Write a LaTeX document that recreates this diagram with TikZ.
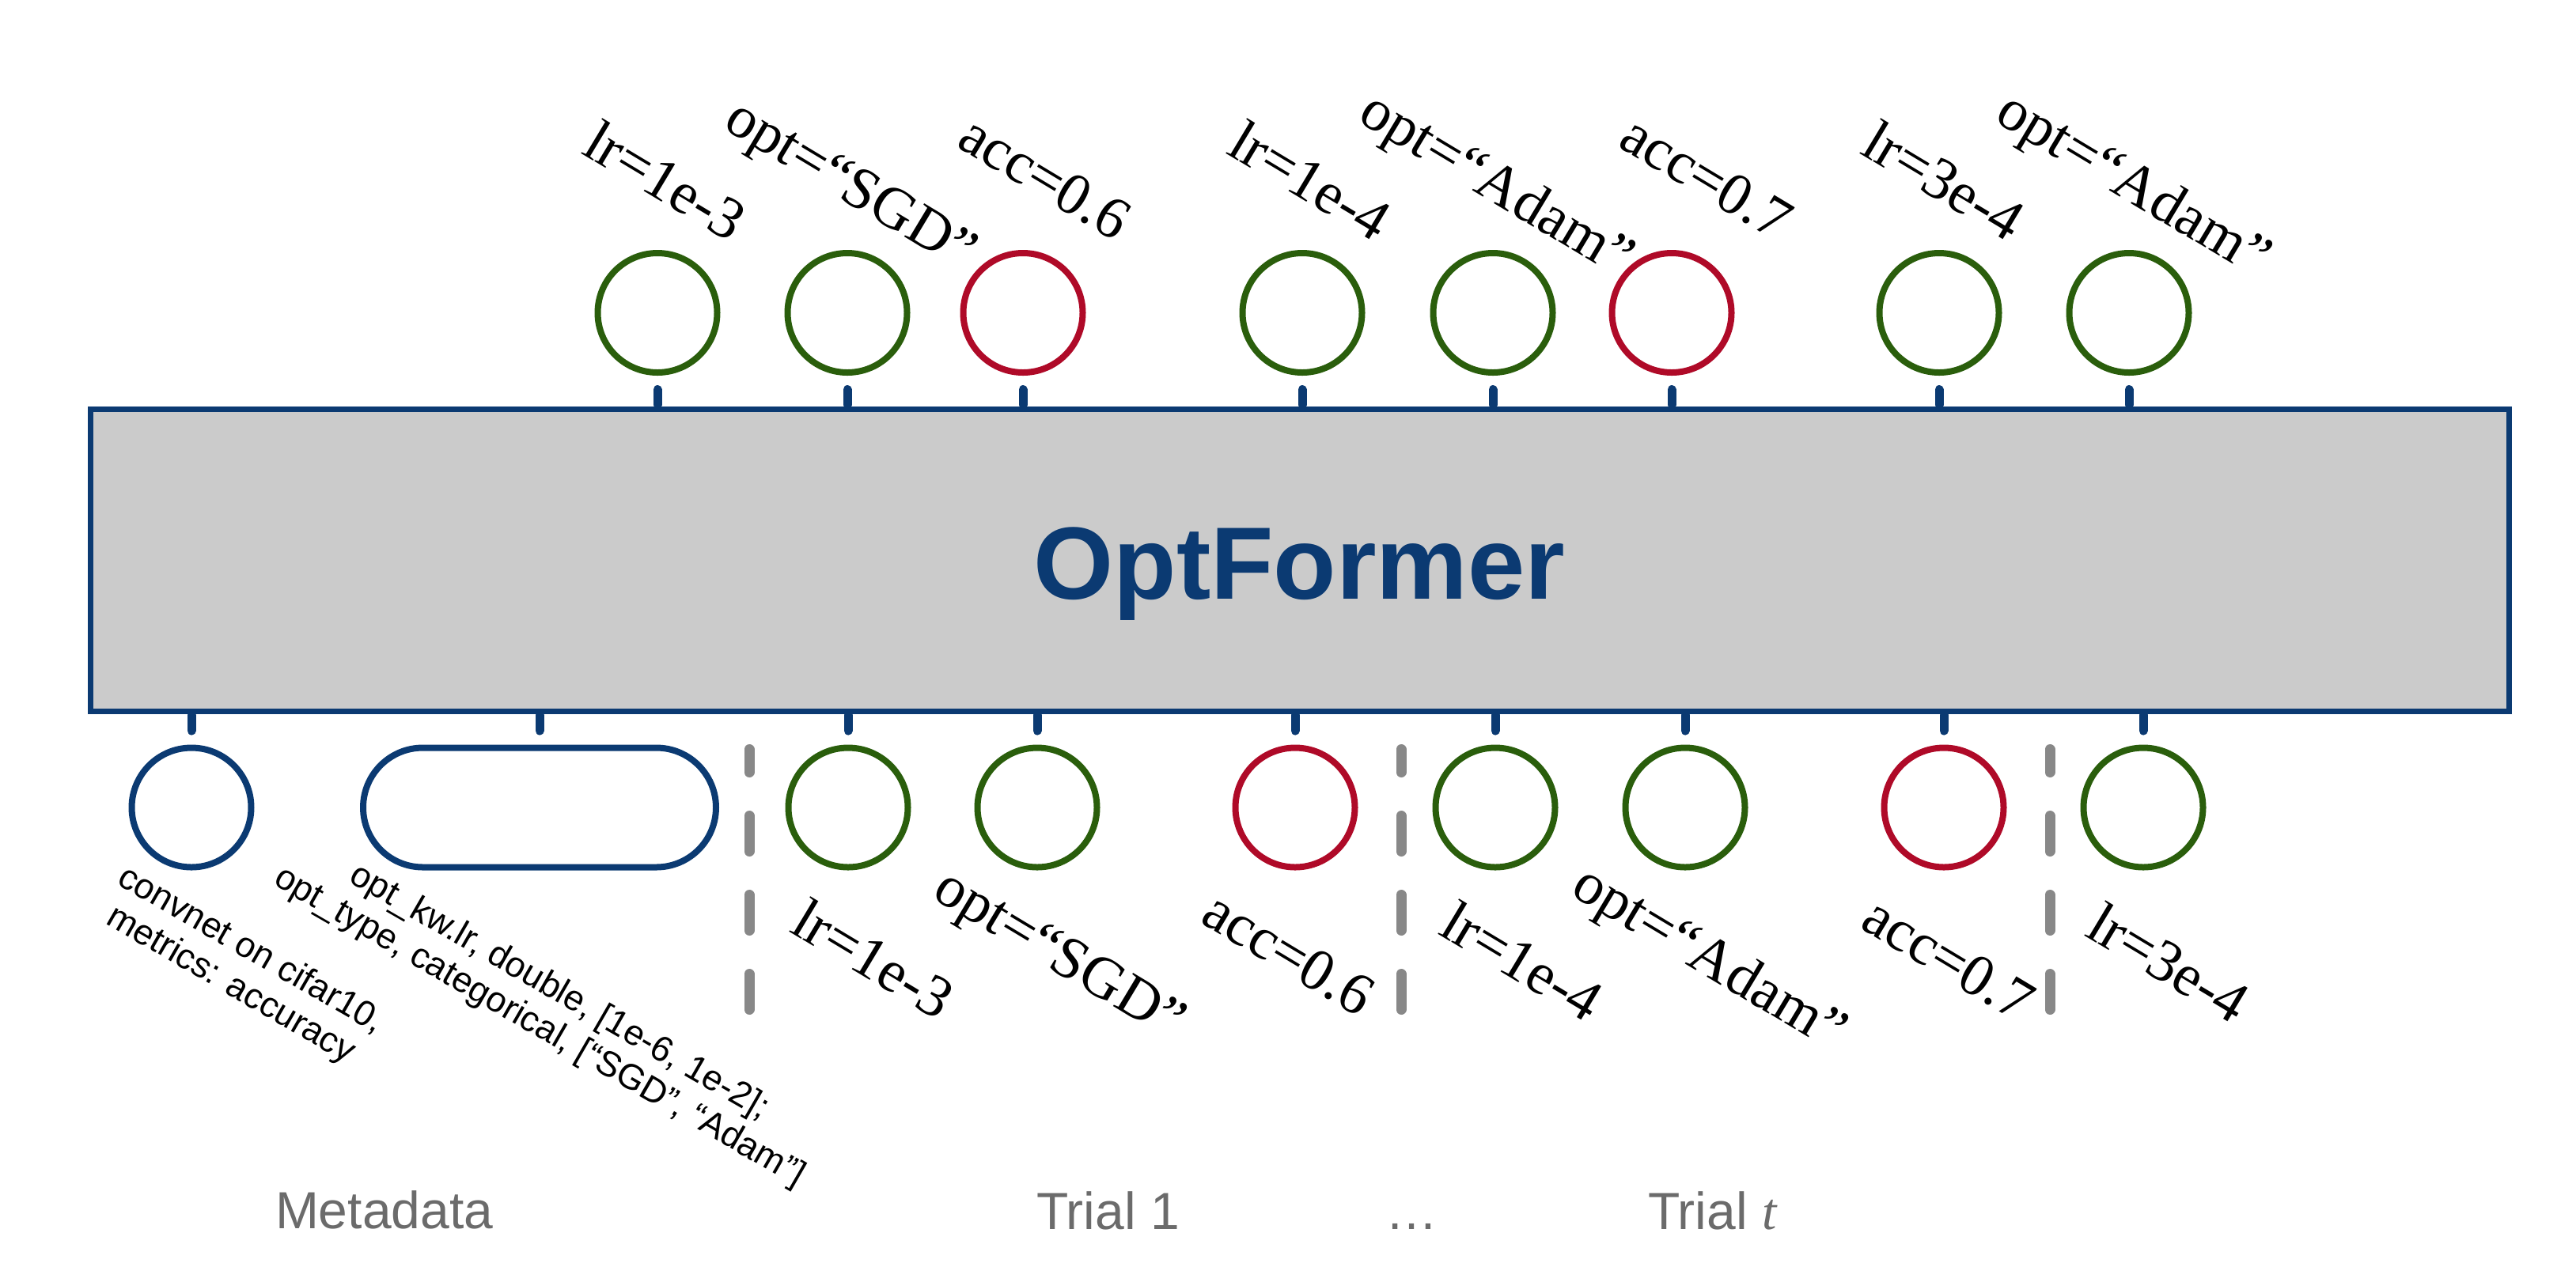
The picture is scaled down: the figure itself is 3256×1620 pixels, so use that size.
\documentclass[tikz,border=0pt]{standalone}
\usepackage{fontspec}
\setmainfont{Liberation Serif}
\setsansfont{Liberation Sans}
\usetikzlibrary{shapes.misc,calc}
\definecolor{ofblue}{HTML}{0B3A72}
\definecolor{ofgray}{HTML}{CBCBCB}
\definecolor{ofgreen}{HTML}{2A5E0C}
\definecolor{ofred}{HTML}{AF0A28}
\definecolor{sepgray}{HTML}{888888}
\definecolor{capgray}{HTML}{6B6B6B}
\begin{document}
\begin{tikzpicture}[x=0.25pt,y=-0.25pt,
  tok/.style={circle,draw,line width=2pt,minimum size=37.75pt,inner sep=0pt,outer sep=0pt},
  hp/.style={tok,draw=ofgreen},
  obj/.style={tok,draw=ofred},
  meta/.style={tok,draw=ofblue},
  pill/.style={rounded rectangle,draw=ofblue,line width=2pt,minimum width=111.5pt,minimum height=37.75pt,inner sep=0pt,outer sep=0pt},
  tickline/.style={draw=ofblue,line width=2.75pt,line cap=round},
  lbl/.style={anchor=base west,inner sep=0pt,outer sep=0pt,font=\fontsize{18.75}{22}\selectfont,rotate=-31},
  mlbl/.style={align=center,inner sep=0pt,outer sep=0pt,font=\sffamily\fontsize{11.25}{12.65}\selectfont,rotate=-30},
  captext/.style={anchor=base west,inner sep=0pt,outer sep=0pt,text=capgray,font=\sffamily\fontsize{16.5}{20}\selectfont},
  sepline/.style={draw=sepgray,line width=3.25pt,line cap=round,dash pattern=on 11.25pt off 13.75pt,dash phase=4pt}
]
\useasboundingbox (0,0) rectangle (3256,1620);

% main block
\node[draw=ofblue,fill=ofgray,line width=1.75pt,minimum width=764.25pt,minimum height=95.5pt,inner sep=0pt,outer sep=0pt] (box) at (1642.5,708) {};
\node[anchor=base,inner sep=0pt,text=ofblue,font=\sffamily\bfseries\fontsize{32.5}{36}\selectfont] (title) at (1642.5,757) {OptFormer};

% top tokens
\node[hp]  (t1) at (831,395.5) {};
\node[hp]  (t2) at (1071,395.5) {};
\node[obj] (t3) at (1293,395.5) {};
\node[hp]  (t4) at (1646,395.5) {};
\node[hp]  (t5) at (1887,395.5) {};
\node[obj] (t6) at (2113,395.5) {};
\node[hp]  (t7) at (2451,395.5) {};
\node[hp]  (t8) at (2691,395.5) {};

% bottom tokens
\node[meta] (m1) at (242,1021) {};
\node[pill] (m2) at (682,1021) {};
\node[hp]  (b1) at (1072,1021) {};
\node[hp]  (b2) at (1311,1021) {};
\node[obj] (b3) at (1637,1021) {};
\node[hp]  (b4) at (1890,1021) {};
\node[hp]  (b5) at (2130,1021) {};
\node[obj] (b6) at (2457,1021) {};
\node[hp]  (b7) at (2709,1021) {};

% ticks
\foreach \n in {t1,t2,t3,t4,t5,t6,t7,t8}
  \draw[tickline] ($(\n.south)+(0,21.5)$) -- ($(\n.south |- box.north)+(0,-5)$);
\foreach \n in {m1,m2,b1,b2,b3,b4,b5,b6,b7}
  \draw[tickline] ($(\n.north |- box.south)+(0,5)$) -- ($(\n.north)+(0,-21.5)$);

% separators
\coordinate (s1) at (947,947.5);
\coordinate (s2) at (1771,947.5);
\coordinate (s3) at (2591,947.5);
\foreach \s in {s1,s2,s3}
  \draw[sepline] (\s) -- ($(\s)+(0,329)$);

% top labels
\node[lbl] (lt1) at (733,193) {lr=1e-3};
\node[lbl] (lt2) at (912,161) {opt=“SGD”};
\node[lbl] (lt3) at (1207,184) {acc=0.6};
\node[lbl] (lt4) at (1548,193) {lr=1e-4};
\node[lbl] (lt5) at (1714,152) {opt=“Adam”};
\node[lbl] (lt6) at (2043,184) {acc=0.7};
\node[lbl] (lt7) at (2349,193) {lr=3e-4};
\node[lbl] (lt8) at (2519,152) {opt=“Adam”};

% bottom labels
\node[lbl] (lb1) at (996,1177) {lr=1e-3};
\node[lbl] (lb2) at (1176,1134) {opt=“SGD”};
\node[lbl] (lb3) at (1515,1165) {acc=0.6};
\node[lbl] (lb4) at (1816,1180) {lr=1e-4};
\node[lbl] (lb5) at (1983,1130) {opt=“Adam”};
\node[lbl] (lb6) at (2349,1172) {acc=0.7};
\node[lbl] (lb7) at (2633,1182) {lr=3e-4};

% metadata labels
\node[mlbl] (lm1) at (304,1224) {convnet on cifar10,\\metrics: accuracy};
\node[mlbl] (lm2) at (694,1277) {opt\_kw.lr, double, [1e-6, 1e-2];\\opt\_type, categorical, [“SGD”, “Adam”]};

% captions
\node[captext] (c1) at (348,1553) {Metadata};
\node[captext] (c2) at (1310,1554) {Trial 1};
\node[captext,anchor=base] (c3) at (1784,1554) {…};
\node[captext] (c4) at (2083,1554) {Trial {\rmfamily\itshape t}};
\end{tikzpicture}
\end{document}
